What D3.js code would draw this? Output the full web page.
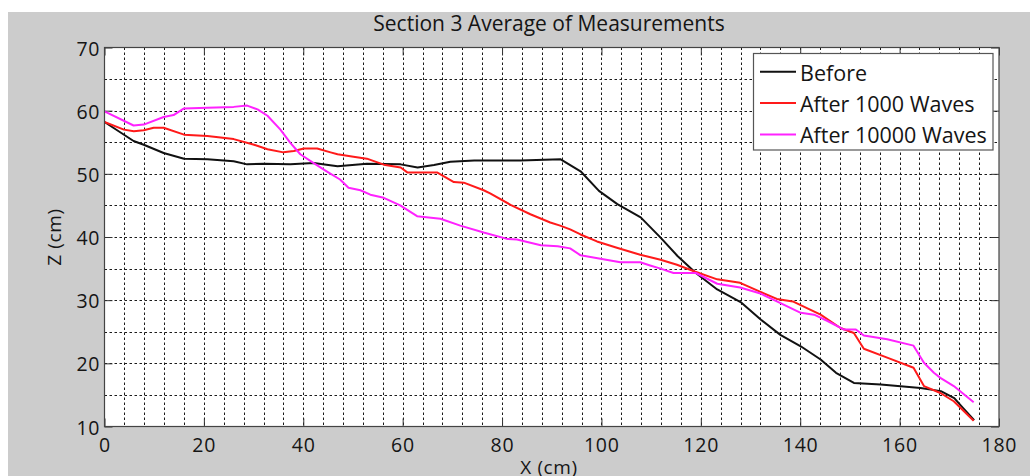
<!DOCTYPE html>
<html><head><meta charset="utf-8">
<script src="https://cdn.jsdelivr.net/npm/d3@7/dist/d3.min.js"></script>
<style>
body{margin:0;background:#fff}
svg{display:block}
text{font-family:"Open Sans",sans-serif;fill:#151515}
</style>
</head><body>
<svg id="chart" width="1030" height="476"></svg>
<script>
// ---------- data ----------
const chartTitle = "Section 3 Average of Measurements";
const xLabel = "X (cm)";
const yLabel = "Z (cm)";
const xTicks = [0,20,40,60,80,100,120,140,160,180];
const yTicks = [10,20,30,40,50,60,70];
const xGrid = d3.range(4, 180, 4);
const yGrid = [15,20,25,30,35,40,45,50,55,60,65];
const seriesNames = ["Before", "After 1000 Waves", "After 10000 Waves"];
const seriesColors = ["#111111", "#ff1a1a", "#ff22ff"];

const beforeX = [0,5.85,7.9,11.9,16.0,20.7,26.0,28.7,32.1,37.4,42.1,46.9,52.8,59.6,63.0,66.3,69.6,74.4,83.7,91.8,95.8,99.5,103.2,107.9,111.9,115.3,119.0,123.3,128.0,132.1,136.0,140.1,144.1,147.2,150.8,156.2,164.2,168.3,171.0,172.7,175.0];
const beforeZ = [58.2,55.2,54.6,53.3,52.4,52.3,52.0,51.5,51.6,51.5,51.7,51.2,51.6,51.5,51.0,51.4,51.9,52.1,52.1,52.3,50.4,47.3,45.2,43.1,39.9,37.0,34.3,31.7,29.7,26.9,24.5,22.7,20.6,18.5,16.9,16.65,16.1,15.6,14.5,13.0,11.0];

const after1000X = [0,3.9,5.9,7.9,9.9,11.9,16.0,20.7,26.0,30.1,32.8,36.0,38.1,40.1,42.8,45.5,46.9,50.1,52.8,56.2,59.6,61.0,67.0,70.3,72.3,76.3,77.6,81.7,85.7,89.7,91.7,93.7,95.8,99.1,103.1,107.8,111.9,115.2,118.9,123.3,127.9,132.0,135.3,138.5,144.1,148.1,150.8,152.8,157.5,162.8,164.9,168.2,170.9,174.9];
const after1000Z = [58.2,57.0,56.75,56.9,57.3,57.3,56.2,56.0,55.5,54.6,53.9,53.4,53.6,54.0,54.0,53.4,53.1,52.7,52.4,51.45,51.0,50.2,50.2,48.7,48.6,47.4,46.9,45.1,43.6,42.3,41.8,41.2,40.4,39.3,38.3,37.2,36.4,35.6,34.5,33.3,32.75,31.3,30.2,29.8,27.7,25.6,24.8,22.3,20.9,19.3,16.4,15.3,14.0,10.9];

const after10000X = [0,5.85,7.9,11.9,13.9,16.0,20.7,26.0,28.7,30.8,32.8,35.4,37.4,39.4,42.1,44.7,47.4,49.1,51.5,53.5,56.2,59.5,62.9,67.6,71.6,76.3,81.0,83.0,87.8,91.2,93.7,95.8,99.8,103.8,107.8,109.8,111.9,114.5,119.0,123.3,127.9,132.0,135.3,140.1,142.8,145.5,148.8,151.2,152.8,157.5,162.8,164.9,166.9,168.2,170.9,174.9];
const after10000Z = [59.9,57.65,57.8,59.0,59.3,60.35,60.45,60.6,60.8,60.2,59.2,57.0,54.9,53.1,51.7,50.4,49.1,47.8,47.4,46.7,46.2,45.0,43.3,42.9,41.8,40.7,39.7,39.6,38.7,38.55,38.2,37.1,36.55,36.0,36.0,35.5,35.0,34.3,34.3,32.6,32.0,31.05,29.8,28.0,27.7,26.7,25.35,25.35,24.4,23.8,22.8,20.1,18.5,17.7,16.4,13.85];

// ---------- layout ----------
const svg = d3.select("#chart");
const W = 1030, H = 476;
const plot = {left: 104.5, right: 999, top: 47.5, bottom: 426.5};

svg.append("rect").attr("x", 8).attr("y", 12).attr("width", W - 8).attr("height", H - 12).attr("fill", "#cccccc");

const x = d3.scaleLinear().domain([0, 180]).range([plot.left, plot.right]);
const y = d3.scaleLinear().domain([10, 70]).range([plot.bottom, plot.top]);

svg.append("rect").attr("x", plot.left).attr("y", plot.top)
  .attr("width", plot.right - plot.left).attr("height", plot.bottom - plot.top).attr("fill", "#fff");

// grid
const grid = svg.append("g").attr("stroke", "#1a1a1a").attr("stroke-width", 1).attr("stroke-dasharray", "2.5,2.5");
grid.selectAll(".vg").data(xGrid).join("line")
  .attr("x1", d => Math.round(x(d)) + 0.5).attr("x2", d => Math.round(x(d)) + 0.5)
  .attr("y1", plot.top).attr("y2", plot.bottom);
grid.selectAll(".hg").data(yGrid).join("line")
  .attr("y1", d => Math.round(y(d)) + 0.5).attr("y2", d => Math.round(y(d)) + 0.5)
  .attr("x1", plot.left).attr("x2", plot.right);

// ticks (inward) via axes
const tickLen = 8;
const axStyle = g => { g.select(".domain").remove(); g.selectAll("line").attr("stroke", "#333"); g.selectAll("text").remove(); };
svg.append("g").attr("transform", `translate(0,${plot.bottom})`).call(d3.axisTop(x).tickValues(xTicks).tickSizeInner(tickLen).tickSizeOuter(0)).call(axStyle);
svg.append("g").attr("transform", `translate(0,${plot.top})`).call(d3.axisBottom(x).tickValues(xTicks).tickSizeInner(tickLen).tickSizeOuter(0)).call(axStyle);
svg.append("g").attr("transform", `translate(${plot.left},0)`).call(d3.axisRight(y).tickValues(yTicks).tickSizeInner(tickLen).tickSizeOuter(0)).call(axStyle);
svg.append("g").attr("transform", `translate(${plot.right},0)`).call(d3.axisLeft(y).tickValues(yTicks).tickSizeInner(tickLen).tickSizeOuter(0)).call(axStyle);

// series
const series = [
  {name: seriesNames[0], color: seriesColors[0], xs: beforeX, zs: beforeZ},
  {name: seriesNames[1], color: seriesColors[1], xs: after1000X, zs: after1000Z},
  {name: seriesNames[2], color: seriesColors[2], xs: after10000X, zs: after10000Z}
];
const line = d3.line().x(d => x(d[0])).y(d => y(d[1]));
svg.append("g").selectAll("path").data(series).join("path")
  .attr("d", s => line(s.xs.map((v, i) => [v, s.zs[i]])))
  .attr("fill", "none").attr("stroke", s => s.color).attr("stroke-width", 2).attr("stroke-linejoin", "round");

// box
svg.append("rect").attr("x", plot.left).attr("y", plot.top)
  .attr("width", plot.right - plot.left).attr("height", plot.bottom - plot.top)
  .attr("fill", "none").attr("stroke", "#444").attr("stroke-width", 1.2);

// tick labels
const tickFont = 19.5, tickLS = 0.8;
svg.append("g").selectAll("text").data(xTicks).join("text")
  .attr("x", d => x(d) + tickLS / 2).attr("y", plot.bottom + 25.5)
  .attr("text-anchor", "middle").attr("font-size", tickFont).attr("letter-spacing", tickLS)
  .text(d => d);
svg.append("g").selectAll("text").data(yTicks).join("text")
  .attr("x", plot.left - 5 + tickLS).attr("y", d => y(d) + 8)
  .attr("text-anchor", "end").attr("font-size", tickFont).attr("letter-spacing", tickLS)
  .text(d => d);

// axis labels
svg.append("text").attr("x", 549).attr("y", 474).attr("text-anchor", "middle")
  .attr("font-size", 19).attr("letter-spacing", 0.6).text(xLabel);
svg.append("text").attr("transform", `translate(60.5,${(plot.top + plot.bottom) / 2}) rotate(-90)`)
  .attr("text-anchor", "middle").attr("font-size", 19).attr("letter-spacing", 0.6).text(yLabel);

// title
svg.append("text").attr("x", 549).attr("y", 30.5).attr("text-anchor", "middle")
  .attr("font-size", 21).text(chartTitle);

// legend
const lg = svg.append("g");
lg.append("rect").attr("x", 753.5).attr("y", 53.5).attr("width", 239.5).attr("height", 96.5)
  .attr("fill", "#fff").attr("stroke", "#555").attr("stroke-width", 1.2);
const rowY = [71.7, 103.1, 134.5];
const rows = lg.selectAll("g.row").data(series).join("g").attr("class", "row")
  .attr("transform", (d, i) => `translate(0,${rowY[i]})`);
rows.append("line").attr("x1", 760).attr("x2", 796).attr("y1", 0).attr("y2", 0)
  .attr("stroke", d => d.color).attr("stroke-width", 2);
rows.append("text").attr("x", 800).attr("y", 8.8).attr("font-size", 21.5).text(d => d.name);
</script>
</body></html>
